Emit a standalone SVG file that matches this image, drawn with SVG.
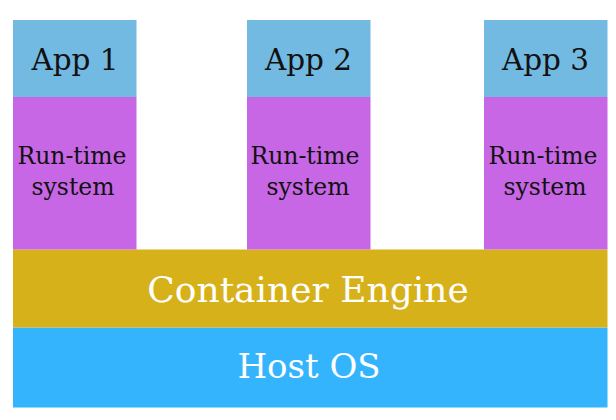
<svg xmlns="http://www.w3.org/2000/svg" width="616" height="420" viewBox="0 0 616 420">
<style>
.app{fill:#73BAE2}
.rt{fill:#C867E6}
.t{font-family:"DejaVu Serif","Liberation Serif",serif;text-anchor:middle}
.big{font-size:29.5px;fill:#111}
.mid{font-size:23.5px;fill:#111}
.w{fill:#fff}
</style>
<rect width="616" height="420" fill="#fff"/>
<g id="host-os">
<rect x="13" y="327.5" width="594.5" height="80" fill="#35B4FE"/>
<text class="t w" x="309" y="378" font-size="34">Host OS</text>
</g>
<g id="container-engine">
<rect x="13" y="249.5" width="594.5" height="78" fill="#D7B119"/>
<text class="t w" x="308" y="301.5" font-size="36">Container Engine</text>
</g>
<g id="app1">
<rect class="app" x="13" y="20" width="123.5" height="77"/>
<text class="t big" x="75" y="70">App 1</text>
</g>
<g id="rt1">
<rect class="rt" x="13" y="97" width="123.5" height="152.5"/>
<text class="t mid" x="72" y="164">Run-time</text>
<text class="t mid" x="73" y="195">system</text>
</g>
<g id="app2">
<rect class="app" x="247" y="20" width="123.5" height="77"/>
<text class="t big" x="308.5" y="70">App 2</text>
</g>
<g id="rt2">
<rect class="rt" x="247" y="97" width="123.5" height="152.5"/>
<text class="t mid" x="305" y="164">Run-time</text>
<text class="t mid" x="308" y="195">system</text>
</g>
<g id="app3">
<rect class="app" x="484" y="20" width="123.5" height="77"/>
<text class="t big" x="545.5" y="70">App 3</text>
</g>
<g id="rt3">
<rect class="rt" x="484" y="97" width="123.5" height="152.5"/>
<text class="t mid" x="543" y="164">Run-time</text>
<text class="t mid" x="545" y="195">system</text>
</g>
<g id="connectors"/>
</svg>
